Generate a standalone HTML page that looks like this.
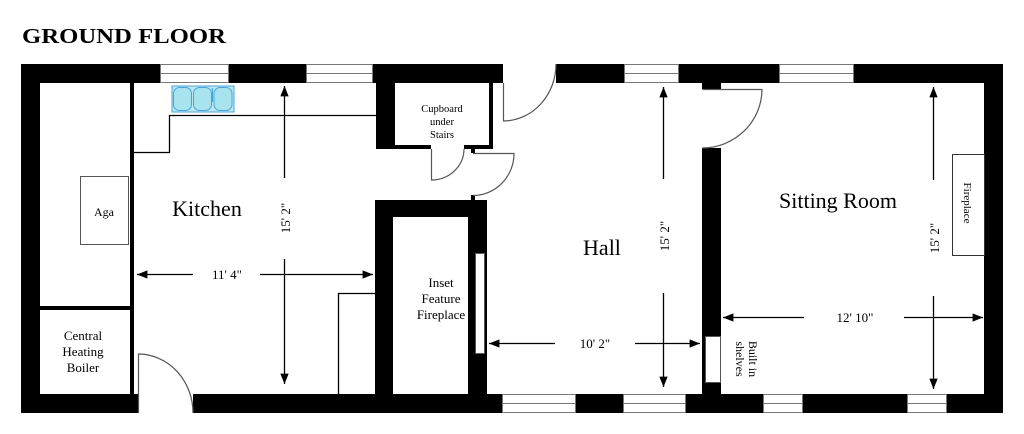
<!DOCTYPE html>
<html><head><meta charset="utf-8"><style>
html,body{margin:0;padding:0;background:#fff;}
svg{display:block;}
text{font-family:"Liberation Serif",serif;fill:#000;}
</style></head><body>
<svg width="1024" height="434" viewBox="0 0 1024 434" xmlns="http://www.w3.org/2000/svg">
<text x="22" y="43" font-size="21" font-weight="bold" textLength="204" lengthAdjust="spacingAndGlyphs">GROUND FLOOR</text>

<!-- outer walls -->
<g fill="#000">
<rect x="21" y="64" width="982" height="19"/>
<rect x="21" y="394" width="982" height="19"/>
<rect x="21" y="64" width="19" height="349"/>
<rect x="984" y="64" width="19" height="349"/>
<!-- cupboard walls -->
<rect x="376" y="64" width="19" height="85"/>
<rect x="376" y="145" width="117" height="4"/>
<rect x="489" y="83" width="4" height="66"/>
<rect x="471" y="149" width="4" height="4"/>
<rect x="471" y="195" width="4" height="5"/>
<!-- fireplace block -->
<rect x="375" y="200" width="112" height="17"/>
<rect x="375" y="200" width="18" height="194"/>
<rect x="468" y="200" width="19" height="194"/>
<!-- hall/sitting wall -->
<rect x="702" y="64" width="19" height="25"/>
<rect x="702" y="148" width="19" height="246"/>
<!-- aga/boiler divider -->
<rect x="40" y="306" width="94" height="4"/>
</g>
<!-- thin line kitchen left -->
<rect x="130" y="83" width="4" height="311" fill="#000"/>

<!-- door openings (white) -->
<g fill="#fff">
<rect x="503" y="63" width="53" height="21"/>
<rect x="395" y="144" width="76" height="6"/>
<rect x="475" y="152" width="14" height="44"/>
<rect x="473" y="149" width="16" height="50"/>
<rect x="701" y="89" width="21" height="59"/>
<rect x="138" y="393" width="55" height="21"/>
</g>
<!-- cupboard inner box restore black -->
<rect x="376" y="145" width="55" height="4" fill="#000"/>
<rect x="464" y="145" width="29" height="4" fill="#000"/>
<rect x="489" y="83" width="4" height="66" fill="#000"/>
<rect x="471" y="149" width="4" height="4" fill="#000"/>
<rect x="471" y="195" width="4" height="5" fill="#000"/>

<!-- windows -->
<g fill="#fff" stroke="#777" stroke-width="1">
<rect x="160.5" y="64.5" width="68" height="18"/>
<rect x="306.5" y="64.5" width="66" height="18"/>
<rect x="624.5" y="64.5" width="54" height="18"/>
<rect x="779.5" y="64.5" width="74" height="18"/>
<rect x="502.5" y="394.5" width="73" height="18"/>
<rect x="623.5" y="394.5" width="62" height="18"/>
<rect x="763.5" y="394.5" width="39" height="18"/>
<rect x="907.5" y="394.5" width="39" height="18"/>
</g>
<g stroke="#777" stroke-width="1">
<line x1="160" y1="73.5" x2="229" y2="73.5"/>
<line x1="306" y1="73.5" x2="373" y2="73.5"/>
<line x1="624" y1="73.5" x2="679" y2="73.5"/>
<line x1="779" y1="73.5" x2="854" y2="73.5"/>
<line x1="502" y1="403.5" x2="576" y2="403.5"/>
<line x1="623" y1="403.5" x2="686" y2="403.5"/>
<line x1="763" y1="403.5" x2="803" y2="403.5"/>
<line x1="907" y1="403.5" x2="947" y2="403.5"/>
</g>

<!-- doors -->
<g fill="none" stroke="#555" stroke-width="1.2">
<path d="M503.5 83 V121 A53 57 0 0 0 556 64"/>
<path d="M431.5 149 V180 A33 31 0 0 0 464 149"/>
<path d="M473 153.5 H514 A41 42 0 0 1 473 195.5"/>
<path d="M702.5 89.5 H762 A60 59 0 0 1 702.5 148"/>
<path d="M138.5 413 V354 A55 59 0 0 1 193 413"/>
</g>

<!-- kitchen fittings -->
<g fill="none" stroke="#000" stroke-width="1.3">
<path d="M376 115.5 H169.5 V152.5 H134"/>
<path d="M338.5 394 V293.5 H375"/>
</g>
<rect x="80.5" y="176.5" width="48" height="68" fill="#fff" stroke="#555"/>
<!-- sink -->
<g stroke="#4aa3d8" stroke-width="1" fill="#a8e4ee">
<rect x="172" y="86" width="62" height="26" fill="#bfe9f2"/>
<rect x="173.5" y="87.5" width="18" height="23" rx="6"/>
<rect x="193.5" y="87.5" width="18" height="23" rx="6"/>
<rect x="214" y="87.5" width="18" height="23" rx="6"/>
<line x1="212.5" y1="88" x2="212.5" y2="102"/>
</g>
<!-- inset fireplace -->
<rect x="475.5" y="253.5" width="9" height="100" fill="#fff" stroke="#555"/>
<!-- built in shelves -->
<rect x="705.5" y="336.5" width="15" height="46" fill="#fff" stroke="#555"/>
<!-- sitting fireplace -->
<rect x="952.5" y="154.5" width="32" height="101" fill="#fff" stroke="#333"/>

<!-- dimension arrows -->
<defs>
<marker id="a" viewBox="0 0 10 10" refX="10" refY="5" markerWidth="8" markerHeight="8" orient="auto-start-reverse">
<path d="M0 1 L10 5 L0 9 z" fill="#000"/></marker>
</defs>
<g stroke="#000" stroke-width="1.3" fill="none">
<line x1="193" y1="274.5" x2="137" y2="274.5" marker-end="url(#a)"/>
<line x1="260" y1="274.5" x2="373" y2="274.5" marker-end="url(#a)"/>
<line x1="284.5" y1="178" x2="284.5" y2="86" marker-end="url(#a)"/>
<line x1="284.5" y1="259" x2="284.5" y2="384" marker-end="url(#a)"/>

<line x1="555" y1="343.5" x2="489" y2="343.5" marker-end="url(#a)"/>
<line x1="635" y1="343.5" x2="700" y2="343.5" marker-end="url(#a)"/>
<line x1="663.5" y1="179" x2="663.5" y2="87" marker-end="url(#a)"/>
<line x1="663.5" y1="293" x2="663.5" y2="387" marker-end="url(#a)"/>

<line x1="804" y1="317.5" x2="723" y2="317.5" marker-end="url(#a)"/>
<line x1="904" y1="317.5" x2="983" y2="317.5" marker-end="url(#a)"/>
<line x1="933.5" y1="180" x2="933.5" y2="87" marker-end="url(#a)"/>
<line x1="933.5" y1="296" x2="933.5" y2="389" marker-end="url(#a)"/>
</g>

<!-- labels -->
<g text-anchor="middle">
<text x="207" y="216" font-size="22">Kitchen</text>
<text x="602" y="255" font-size="22">Hall</text>
<text x="838" y="208" font-size="22">Sitting Room</text>
<text x="104" y="216" font-size="12">Aga</text>
<text x="83" y="340" font-size="13">Central</text>
<text x="83" y="356" font-size="13">Heating</text>
<text x="83" y="372" font-size="13">Boiler</text>
<text x="442" y="112" font-size="10.5">Cupboard</text>
<text x="442" y="125" font-size="10.5">under</text>
<text x="442" y="138" font-size="10.5">Stairs</text>
<text x="441" y="287" font-size="13">Inset</text>
<text x="441" y="303" font-size="13">Feature</text>
<text x="441" y="319" font-size="13">Fireplace</text>
<text x="227" y="279" font-size="13">11' 4"</text>
<text x="595" y="348" font-size="13">10' 2"</text>
<text x="855" y="322" font-size="13">12' 10"</text>
<text transform="translate(290,218) rotate(-90)" font-size="13">15' 2"</text>
<text transform="translate(669,236) rotate(-90)" font-size="13">15' 2"</text>
<text transform="translate(939,238) rotate(-90)" font-size="13">15' 2"</text>
<text transform="translate(964,203) rotate(90)" font-size="11">Fireplace</text>
<text transform="translate(749,359) rotate(90)" font-size="12">Built in</text>
<text transform="translate(736,359) rotate(90)" font-size="12">shelves</text>
</g>
</svg>
</body></html>
